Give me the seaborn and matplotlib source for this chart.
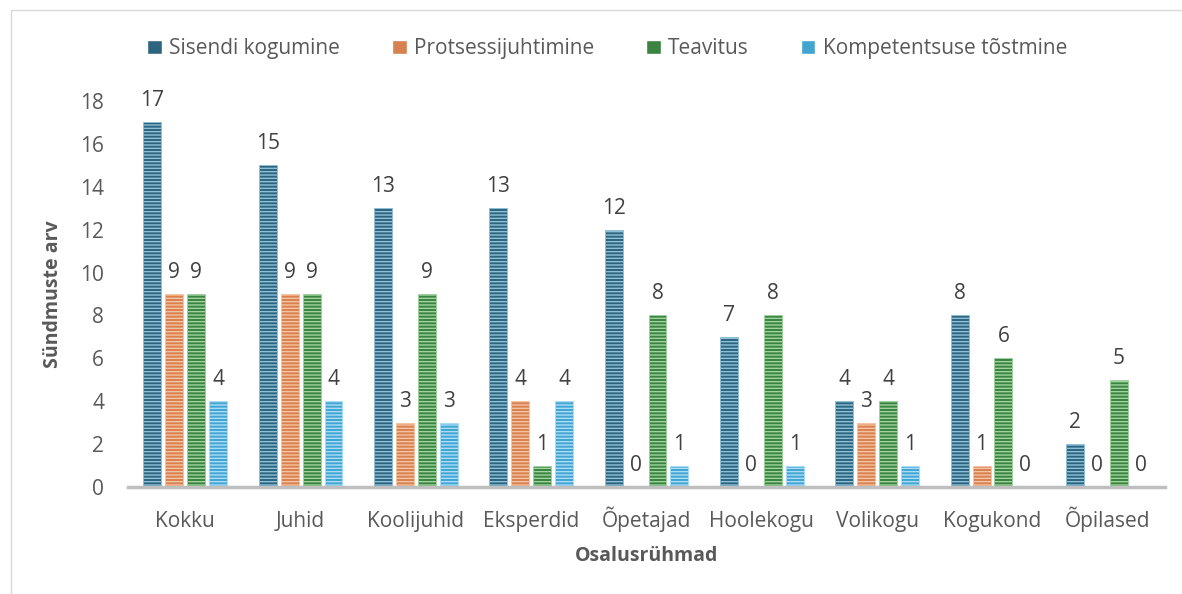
import numpy as np
import pandas as pd
import seaborn as sns
import matplotlib.pyplot as plt
from matplotlib.patches import Rectangle

# data
groups = ["Kokku", "Juhid", "Koolijuhid", "Eksperdid", "Õpetajad",
          "Hoolekogu", "Volikogu", "Kogukond", "Õpilased"]
series = ["Sisendi kogumine", "Protsessijuhtimine", "Teavitus", "Kompetentsuse tõstmine"]
sisendi = [17, 15, 13, 13, 12, 7, 4, 8, 2]
protsess = [9, 9, 3, 4, 0, 0, 3, 1, 0]
teavitus = [9, 9, 9, 1, 8, 8, 4, 6, 5]
kompetents = [4, 4, 3, 4, 1, 1, 1, 0, 0]

colors = ["#1f6a8e", "#ee7b3a", "#2f8f36", "#2aaee6"]
stripes = ["#8fc0d8", "#f8c3a0", "#9fd49f", "#a8defa"]

df = pd.DataFrame({"grupp": groups * 4,
                   "seeria": np.repeat(series, len(groups)),
                   "arv": sisendi + protsess + teavitus + kompetents})

sns.set_style("white")
plt.rcParams["font.family"] = ["Open Sans", "DejaVu Sans"]
plt.rcParams["hatch.linewidth"] = 1.0

fig = plt.figure(figsize=(11.82, 5.94), dpi=100)
ax = fig.add_axes([0.108, 0.180, 0.878, 0.650])

sns.barplot(data=df, x="grupp", y="arv", hue="seeria", palette=colors,
            width=0.76, gap=0.18, ax=ax, legend=True)

# striped bars + value labels
for cont, st in zip(ax.containers, stripes):
    for b in cont:
        b.set_hatch("-----")
        b.set_edgecolor(st)
        b.set_linewidth(0.6)
    ax.bar_label(cont, padding=8, fontsize=15, color="#404040")

ax.set_ylim(0, 18)
ax.set_yticks(range(0, 19, 2))
ax.set_xlim(-0.5, 8.5)
for s in ["top", "right", "left"]:
    ax.spines[s].set_visible(False)
ax.spines["bottom"].set_color("#bfbfbf")
ax.spines["bottom"].set_linewidth(2.5)
ax.tick_params(axis="both", length=0, labelsize=15, labelcolor="#595959")
ax.tick_params(axis="y", pad=17)
ax.tick_params(axis="x", pad=29)
for t in ax.get_xticklabels():
    t.set_verticalalignment("baseline")
ax.set_xlabel("Osalusrühmad", fontsize=14, fontweight="bold", color="#595959", labelpad=10)
ax.set_ylabel("Sündmuste arv", fontsize=14, fontweight="bold", color="#595959", labelpad=12)

handles, labels = ax.get_legend_handles_labels()
ax.legend(handles, labels, loc="center", bbox_to_anchor=(0.462, 1.135), ncol=4,
          frameon=False, fontsize=15, labelcolor="#595959", handlelength=0.7,
          handleheight=0.7, handletextpad=0.35, columnspacing=2.5)

# light frame, only top and left edge visible
fig.patches.append(Rectangle((0.009, -0.1), 1.2, 1.083, transform=fig.transFigure,
                             fill=False, edgecolor="#d9d9d9", linewidth=1))

fig.savefig("out.png", dpi=100)
